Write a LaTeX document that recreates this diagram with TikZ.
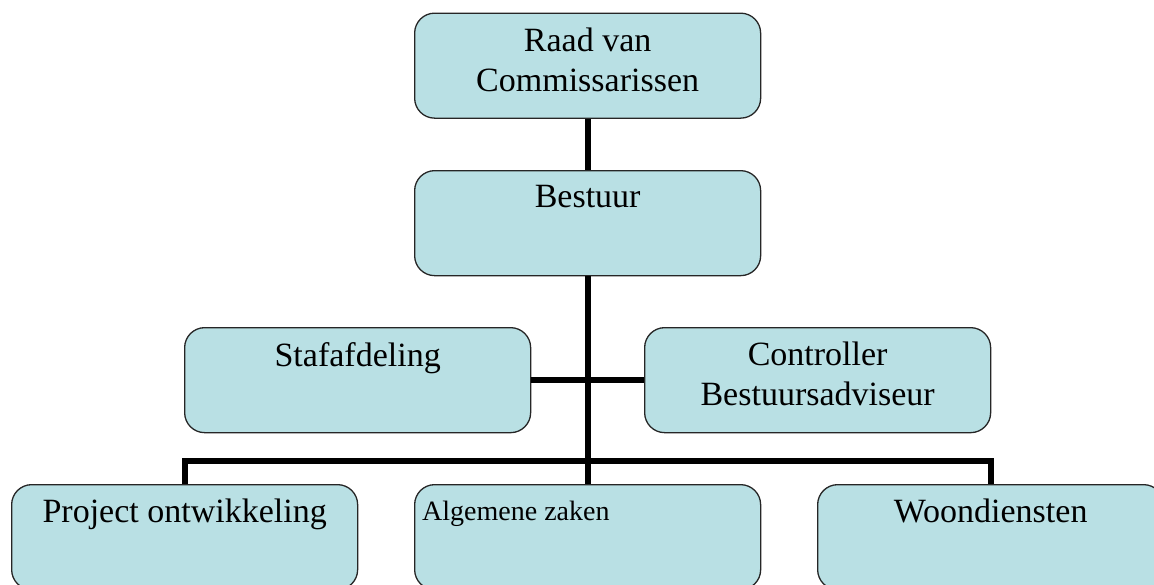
\documentclass[tikz,border=0pt]{standalone}
\usepackage{fontspec}
\setmainfont{Liberation Serif}
\definecolor{boxfill}{RGB}{185,224,228}
\begin{document}
\begin{tikzpicture}[x=1pt,y=-1pt,
  unit/.style={draw=black!85, line width=1.3pt, fill=boxfill, rounded corners=20pt,
    minimum width=346pt, minimum height=105pt, inner sep=0pt, anchor=north west},
  title/.style={anchor=north, inner sep=0pt, align=center,
    font=\fontsize{34}{40}\selectfont},
  link/.style={line width=6pt, line join=miter}]
\useasboundingbox (0,0) rectangle (1154,584);
\clip (0,0) rectangle (1154,584);

% boxes
\node[unit] (raad)    at (414,12.5) {};
\node[unit] (bestuur) at (414,170)  {};
\node[unit] (staf)    at (184,327)  {};
\node[unit] (ctrl)    at (644,327)  {};
\node[unit] (proj)    at (11,484)   {};
\node[unit] (alg)     at (414,484)  {};
\node[unit] (woon)    at (817,484)  {};

% box titles
\node[title] (raadT)    at ([yshift=-15pt]raad.north)    {Raad van\\Commissarissen};
\node[title] (bestuurT) at ([yshift=-15pt]bestuur.north) {Bestuur};
\node[title] (stafT)    at ([yshift=-15pt]staf.north)    {Stafafdeling};
\node[title] (ctrlT)    at ([yshift=-15pt]ctrl.north)    {Controller\\Bestuursadviseur};
\node[title] (projT)    at ([yshift=-15pt]proj.north)    {Project ontwikkeling};
\node[title] (woonT)    at ([yshift=-15pt]woon.north)    {Woondiensten};
\node[anchor=base west, inner sep=0pt, font=\fontsize{28}{32}\selectfont]
  (algT) at ([xshift=8pt,yshift=-36pt]alg.north west) {Algemene zaken};

% connectors
\coordinate (bar) at (587,460.7);
\draw[link] (raad.south) -- (bestuur.north);
\draw[link] (bestuur.south) -- (alg.north);
\draw[link] (staf.east) -- (ctrl.west);
\draw[link] (proj.north) -- (proj.north |- bar) -- (woon.north |- bar) -- (woon.north);
\end{tikzpicture}
\end{document}
